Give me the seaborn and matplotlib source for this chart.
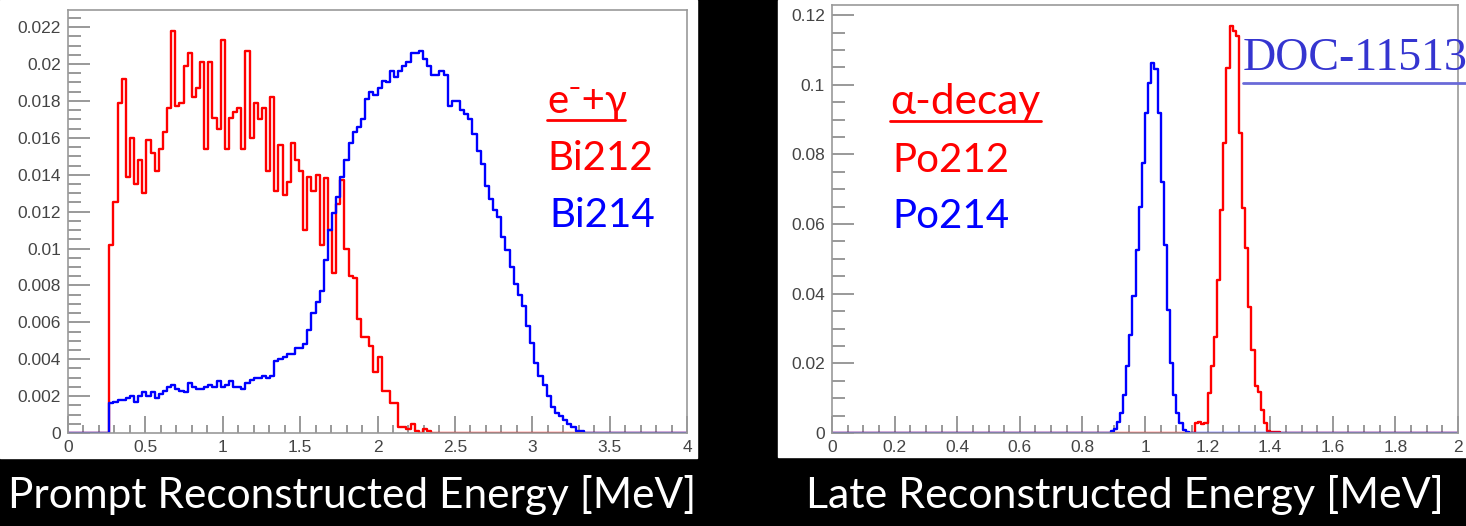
import numpy as np
import pandas as pd
import matplotlib
matplotlib.use("Agg")
import matplotlib.pyplot as plt
from matplotlib.lines import Line2D
from matplotlib.patches import Rectangle
from matplotlib.ticker import MultipleLocator, FuncFormatter
import seaborn as sns

# Prompt energy: 150 bins over 0-4 MeV, values start at bin 10
prompt_edges = list(np.linspace(0, 4, 151))
prompt_first_bin = 10
bi212 = [
    0.0102, 0.0125, 0.0179, 0.0192, 0.0139, 0.0160, 0.0135, 0.0148, 0.0130, 0.0159,
    0.0152, 0.0142, 0.0154, 0.0163, 0.0176, 0.0218, 0.0177, 0.0179, 0.0199, 0.0206,
    0.0182, 0.0187, 0.0201, 0.0154, 0.0201, 0.0171, 0.0165, 0.0213, 0.0154, 0.0171,
    0.0174, 0.0176, 0.0154, 0.0207, 0.0160, 0.0179, 0.0170, 0.0176, 0.0142, 0.0182,
    0.0131, 0.0156, 0.0129, 0.0136, 0.0157, 0.0148, 0.0142, 0.0110, 0.0139, 0.0131,
    0.0140, 0.0102, 0.0138, 0.0110, 0.0087, 0.0124, 0.0137, 0.0100, 0.0085, 0.0084,
    0.0062, 0.0052, 0.0052, 0.0047, 0.0033, 0.0041, 0.0023, 0.0023, 0.0016, 0.0016,
    0.0003, 0.0003, 0.0002, 0.0005, 0.0001, 0.0000, 0.0002, 0.0001,
]
bi214 = [
    0.0016, 0.0017, 0.0018, 0.0018, 0.0019, 0.0020, 0.0017, 0.0020, 0.0022, 0.0020,
    0.0022, 0.0019, 0.0021, 0.0023, 0.0025, 0.0026, 0.0024, 0.0023, 0.0022, 0.0027,
    0.0025, 0.0024, 0.0024, 0.0025, 0.0026, 0.0025, 0.0028, 0.0025, 0.0026, 0.0028,
    0.0025, 0.0025, 0.0024, 0.0027, 0.0029, 0.0030, 0.0030, 0.0031, 0.0030, 0.0031,
    0.0039, 0.0040, 0.0041, 0.0043, 0.0043, 0.0046, 0.0046, 0.0048, 0.0056, 0.0065,
    0.0071, 0.0077, 0.0094, 0.0110, 0.0119, 0.0128, 0.0139, 0.0148, 0.0157, 0.0163,
    0.0166, 0.0170, 0.0181, 0.0185, 0.0183, 0.0187, 0.0191, 0.0190, 0.0196, 0.0193,
    0.0196, 0.0199, 0.0201, 0.0206, 0.0206, 0.0207, 0.0203, 0.0199, 0.0194, 0.0194,
    0.0196, 0.0194, 0.0177, 0.0180, 0.0180, 0.0175, 0.0173, 0.0170, 0.0162, 0.0153,
    0.0146, 0.0134, 0.0127, 0.0121, 0.0117, 0.0106, 0.0099, 0.0090, 0.0081, 0.0075,
    0.0069, 0.0058, 0.0049, 0.0038, 0.0031, 0.0026, 0.0020, 0.0014, 0.0011, 0.0009,
    0.0007, 0.0005, 0.0003, 0.0001, 0.0001,
]

# Late energy: 200 bins over 0-2 MeV
late_edges = list(np.linspace(0, 2, 201))
po214_first_bin = 89
po214 = [
    0.0005, 0.0012, 0.0033, 0.0057, 0.0110, 0.0191, 0.0282, 0.0392, 0.0526, 0.0650,
    0.0775, 0.0918, 0.1004, 0.1062, 0.1045, 0.0918, 0.0722, 0.0540, 0.0354, 0.0201,
    0.0110, 0.0057, 0.0028, 0.0009, 0.0002,
]
po212_first_bin = 116
po212 = [
    0.0029, 0.0033, 0.0025, 0.0030, 0.0115, 0.0191, 0.0277, 0.0440, 0.0641, 0.0832,
    0.1047, 0.1170, 0.1155, 0.1139, 0.0861, 0.0645, 0.0530, 0.0363, 0.0239, 0.0134,
    0.0119, 0.0067, 0.0029, 0.0007, 0.0004, 0.0004, 0.0002, 0.0001,
]


def hist_frame(edges, first_bin, values):
    e = np.asarray(edges)
    centers = (e[:-1] + e[1:]) / 2
    w = np.zeros(len(centers))
    w[first_bin:first_bin + len(values)] = values
    return pd.DataFrame({"energy": centers, "weight": w})


W, H = 1466, 526
sns.set_style("white")
plt.rcParams["font.family"] = ["Liberation Sans", "DejaVu Sans"]

fig = plt.figure(figsize=(W / 100, H / 100), dpi=100, facecolor="black")

# white panels behind the two plots
fig.add_artist(Rectangle((0, 1 - 458 / H), 697 / W, 458 / H, transform=fig.transFigure,
                         color="white", zorder=-10))
fig.add_artist(Rectangle((778 / W, 1 - 457 / H), (W - 778) / W, 457 / H,
                         transform=fig.transFigure, color="white", zorder=-10))

ax1 = fig.add_axes([68 / W, 1 - 433 / H, 619 / W, 423 / H])
ax2 = fig.add_axes([832 / W, 1 - 433 / H, 626 / W, 428 / H])

lw = 1.7
sns.histplot(data=hist_frame(prompt_edges, prompt_first_bin, bi212), x="energy",
             weights="weight", bins=prompt_edges, element="step", fill=False,
             color="#ff0000", linewidth=lw, ax=ax1)
sns.histplot(data=hist_frame(prompt_edges, prompt_first_bin, bi214), x="energy",
             weights="weight", bins=prompt_edges, element="step", fill=False,
             color="#0000ff", linewidth=lw, ax=ax1)
sns.histplot(data=hist_frame(late_edges, po212_first_bin, po212), x="energy",
             weights="weight", bins=late_edges, element="step", fill=False,
             color="#ff0000", linewidth=lw, ax=ax2)
sns.histplot(data=hist_frame(late_edges, po214_first_bin, po214), x="energy",
             weights="weight", bins=late_edges, element="step", fill=False,
             color="#0000ff", linewidth=lw, ax=ax2)

fmt = FuncFormatter(lambda v, p: f"{v:g}")
for ax, xmax, ymax, xmaj, xmin_, ymaj, ymin_ in [
    (ax1, 4, 0.02293, 0.5, 0.1, 0.002, 0.0005),
    (ax2, 2, 0.1229, 0.2, 0.05, 0.02, 0.005),
]:
    ax.set_xlim(0, xmax)
    ax.set_ylim(0, ymax)
    ax.set_xlabel("")
    ax.set_ylabel("")
    ax.set_facecolor("white")
    ax.xaxis.set_major_locator(MultipleLocator(xmaj))
    ax.xaxis.set_minor_locator(MultipleLocator(xmin_))
    ax.yaxis.set_major_locator(MultipleLocator(ymaj))
    ax.yaxis.set_minor_locator(MultipleLocator(ymin_))
    ax.xaxis.set_major_formatter(fmt)
    ax.yaxis.set_major_formatter(fmt)
    ax.tick_params(which="both", direction="in", colors="#888888", width=1.2,
                   labelcolor="#444444", labelsize=12.5, bottom=True, left=True)
    ax.tick_params(axis="y", which="major", length=16, pad=5)
    ax.tick_params(axis="y", which="minor", length=9)
    ax.tick_params(axis="x", which="major", length=12, pad=5)
    ax.tick_params(axis="x", which="minor", length=6)
    for s in ax.spines.values():
        s.set_color("#999999")
        s.set_linewidth(1.2)

big = ["Lato", "DejaVu Sans"]


def ftext(x, y, s, **kw):
    fig.text(x / W, 1 - y / H, s, va="baseline", **kw)


def uline(x0, x1, y, color, lw=2):
    fig.add_artist(Line2D([x0 / W, x1 / W], [1 - y / H] * 2, color=color, lw=lw,
                          transform=fig.transFigure, zorder=5))


# labels inside the prompt panel
ftext(547, 113, "e\u207b+\u03b3", color="#ff0000", fontsize=29, family=big)
uline(547, 625, 120, "#ff0000")
ftext(547, 170, "Bi212", color="#ff0000", fontsize=29, family=big)
ftext(549, 227, "Bi214", color="#0000ff", fontsize=29, family=big)

# labels inside the late panel
ftext(890, 114, "\u03b1-decay", color="#ff0000", fontsize=30.5, family=big)
uline(890, 1041, 121, "#ff0000")
ftext(892, 172, "Po212", color="#ff0000", fontsize=29, family=big)
ftext(892, 228, "Po214", color="#0000ff", fontsize=29, family=big)

ftext(1243, 70, "DOC-11513", color="#3535d0", fontsize=33,
      family=["Liberation Serif", "DejaVu Serif"])
uline(1243, 1466, 83, "#6a6ad8", lw=2)

# axis titles in the black band
ftext(352, 508, "Prompt Reconstructed Energy [MeV]", color="white", fontsize=30.5,
      family=big, ha="center")
ftext(1125, 508, "Late Reconstructed Energy [MeV]", color="white", fontsize=31,
      family=big, ha="center")

fig.savefig("out.png", dpi=100, facecolor="black")
